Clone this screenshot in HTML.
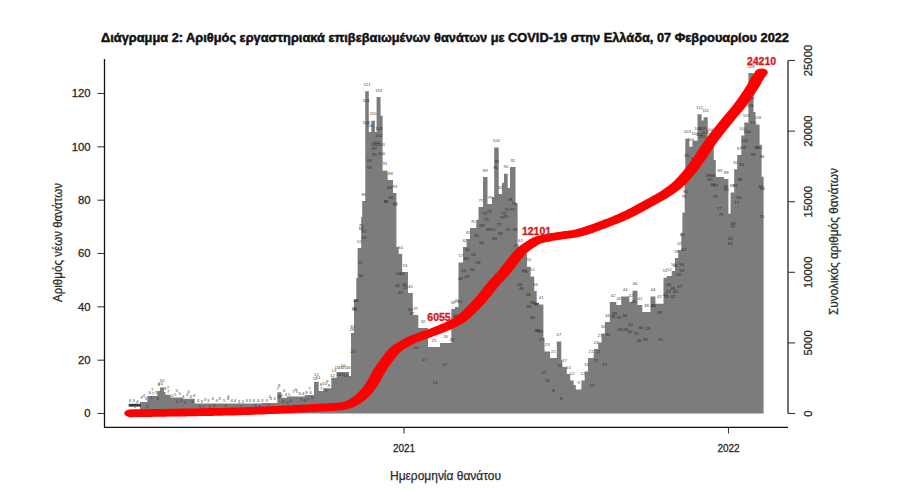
<!DOCTYPE html>
<html><head><meta charset="utf-8"><style>
html,body{margin:0;padding:0;background:#fff;width:900px;height:491px;overflow:hidden}
svg{display:block}
text{font-family:"Liberation Sans", sans-serif}
</style></head><body>
<svg width="900" height="491" viewBox="0 0 900 491">
<rect width="900" height="491" fill="#fff"/>
<text x="445" y="41.7" text-anchor="middle" font-weight="bold" font-size="12.8" fill="#111" stroke="#111" stroke-width="0.5" textLength="688" lengthAdjust="spacingAndGlyphs">Διάγραμμα 2: Αριθμός εργαστηριακά επιβεβαιωμένων θανάτων με COVID-19 στην Ελλάδα, 07 Φεβρουαρίου 2022</text>
<path d="M140.0 413.5 L140.0 402.0 L147.3 402.0 L147.3 396.0 L157.3 396.0 L157.3 391.0 L160.0 391.0 L160.0 387.5 L164.0 387.5 L164.0 392.0 L165.3 392.0 L165.3 394.7 L170.7 394.7 L170.7 397.5 L182.7 397.5 L182.7 398.7 L194.7 398.7 L194.7 403.5 L262.0 403.5 L262.0 403.0 L277.3 403.0 L277.3 392.3 L281.3 392.3 L281.3 397.7 L287.0 397.7 L287.0 396.5 L304.7 396.5 L304.7 395.0 L314.0 395.0 L314.0 381.7 L318.7 381.7 L318.7 391.0 L323.3 391.0 L323.3 388.3 L331.3 388.3 L331.3 377.7 L336.7 377.7 L336.7 372.0 L349.0 372.0 L349.0 376.0 L351.0 376.0 L351.0 333.0 L354.0 333.0 L354.0 300.0 L356.3 300.0 L356.3 278.0 L357.6 278.0 L357.6 248.0 L361.2 248.0 L361.2 217.0 L362.2 217.0 L362.2 201.0 L365.3 201.0 L365.2 91.2 L368.8 91.2 L368.8 132.0 L371.3 132.0 L371.3 120.7 L374.9 120.7 L374.9 132.0 L376.6 132.0 L376.6 97.0 L380.5 97.0 L380.6 115.7 L382.6 115.7 L382.6 170.7 L387.7 170.7 L387.7 180.0 L393.0 180.0 L393.0 193.0 L396.4 193.0 L396.4 247.0 L398.7 247.0 L398.7 254.0 L402.2 254.0 L402.2 272.0 L408.0 272.0 L408.0 293.0 L412.8 293.0 L412.8 315.0 L418.3 315.0 L418.3 328.0 L428.0 328.0 L428.0 347.0 L440.0 347.0 L440.0 343.0 L451.3 343.0 L451.3 309.0 L455.0 309.0 L455.0 307.0 L458.5 307.0 L458.5 262.5 L463.0 262.5 L463.0 247.0 L466.6 247.0 L466.6 239.0 L470.0 239.0 L470.0 228.0 L476.3 228.0 L476.3 219.7 L478.5 219.7 L478.5 207.0 L483.0 207.0 L483.0 177.0 L487.5 177.0 L487.5 204.0 L492.0 204.0 L492.0 197.0 L494.2 197.0 L494.2 147.5 L498.7 147.5 L498.7 194.0 L502.0 194.0 L502.0 182.7 L504.0 182.7 L504.0 173.7 L507.7 173.7 L507.7 188.0 L510.0 188.0 L510.0 167.0 L515.5 167.0 L515.5 202.9 L517.6 202.9 L517.6 247.0 L523.2 247.0 L523.2 254.0 L527.0 254.0 L527.0 266.7 L530.6 266.7 L530.6 276.5 L534.2 276.5 L534.2 291.0 L536.7 291.0 L536.7 303.0 L539.0 303.0 L539.0 304.6 L543.4 304.6 L543.4 338.0 L544.5 338.0 L544.5 351.5 L550.0 351.5 L550.0 358.0 L556.8 358.0 L556.8 341.4 L561.3 341.4 L561.3 360.0 L562.4 360.0 L562.4 367.0 L566.8 367.0 L566.8 374.0 L570.2 374.0 L570.2 380.5 L573.6 380.5 L573.6 385.0 L575.8 385.0 L575.8 389.5 L581.4 389.5 L581.4 380.5 L584.7 380.5 L584.7 371.6 L588.0 371.6 L588.0 358.0 L593.7 358.0 L593.7 349.0 L598.2 349.0 L598.2 342.5 L601.5 342.5 L601.5 333.6 L604.9 333.6 L604.9 322.0 L609.8 322.0 L609.8 302.0 L616.3 302.0 L616.3 305.0 L621.2 305.0 L621.2 296.4 L629.3 296.4 L629.3 302.0 L632.6 302.0 L632.6 290.7 L637.5 290.7 L637.5 305.0 L642.3 305.0 L642.3 312.0 L650.5 312.0 L650.5 296.4 L655.4 296.4 L655.4 303.7 L663.5 303.7 L663.5 277.7 L666.8 277.7 L666.8 276.0 L671.7 276.0 L671.7 271.0 L675.0 271.0 L675.0 258.0 L678.2 258.0 L678.2 250.0 L681.3 250.0 L681.3 232.8 L682.4 232.8 L682.4 212.6 L684.7 212.6 L684.7 180.0 L685.3 180.0 L685.3 138.7 L689.3 138.7 L689.3 146.8 L692.4 146.8 L692.4 140.7 L697.5 140.7 L697.5 114.3 L701.6 114.3 L701.6 120.4 L703.6 120.4 L703.6 117.3 L707.7 117.3 L707.7 136.7 L710.7 136.7 L710.7 144.8 L713.8 144.8 L713.8 160.0 L715.8 160.0 L715.8 177.0 L724.0 177.0 L724.0 179.0 L728.4 179.0 L728.4 213.7 L730.6 213.7 L730.6 192.4 L734.2 192.4 L734.2 169.2 L737.2 169.2 L737.2 155.0 L741.3 155.0 L741.3 135.6 L744.3 135.6 L744.3 122.4 L748.4 122.4 L748.4 73.0 L753.5 73.0 L753.5 112.0 L755.5 112.0 L755.5 124.4 L759.6 124.4 L759.6 144.8 L761.6 144.8 L761.6 176.7 L763.6 176.7 L763.6 413.5 Z" fill="#7c7c7c"/>
<rect x="128.7" y="403.8" width="12" height="2.8" fill="#3a3a3a"/>
<g font-size="4.3" text-anchor="middle" fill="#4a4a4a" font-family="Liberation Sans, sans-serif"><text x="143.7" y="396.5">4</text><text x="152.3" y="390.5">7</text><text x="158.7" y="385.5">8</text><text x="162.0" y="382.0">10</text><text x="168.0" y="389.2">7</text><text x="176.7" y="392.0">6</text><text x="188.7" y="393.2">6</text><text x="228.3" y="398.0">4</text><text x="269.6" y="397.5">4</text><text x="279.3" y="386.8">8</text><text x="284.1" y="392.2">6</text><text x="295.9" y="391.0">6</text><text x="309.4" y="389.5">7</text><text x="316.4" y="376.2">12</text><text x="321.0" y="385.5">8</text><text x="327.3" y="382.8">9</text><text x="334.0" y="372.2">13</text><text x="342.9" y="366.5">16</text><text x="352.5" y="327.5">30</text><text x="353.0" y="353.0" fill="#2a2a2a">21</text><text x="354.7" y="310.7" fill="#2a2a2a">39</text><text x="353.8" y="310.1" fill="#2a2a2a">39</text><text x="355.7" y="302.0" fill="#2a2a2a">39</text><text x="355.8" y="301.7" fill="#2a2a2a">44</text><text x="359.4" y="242.5">62</text><text x="360.7" y="264.3" fill="#2a2a2a">57</text><text x="360.8" y="277.4" fill="#2a2a2a">50</text><text x="361.1" y="226.7" fill="#2a2a2a">72</text><text x="361.1" y="230.3" fill="#2a2a2a">66</text><text x="363.8" y="195.5">80</text><text x="364.0" y="239.2" fill="#2a2a2a">63</text><text x="363.9" y="232.6" fill="#2a2a2a">67</text><text x="367.0" y="85.7">121</text><text x="366.1" y="101.5" fill="#2a2a2a">114</text><text x="366.4" y="124.4" fill="#2a2a2a">108</text><text x="370.1" y="126.5">106</text><text x="369.4" y="161.7" fill="#2a2a2a">94</text><text x="369.3" y="169.4" fill="#2a2a2a">93</text><text x="373.1" y="115.2">110</text><text x="374.2" y="150.0" fill="#2a2a2a">99</text><text x="374.5" y="155.7" fill="#2a2a2a">95</text><text x="376.5" y="144.4" fill="#2a2a2a">100</text><text x="374.4" y="145.6" fill="#2a2a2a">100</text><text x="378.6" y="91.5">119</text><text x="378.8" y="129.7" fill="#2a2a2a">108</text><text x="379.1" y="137.4" fill="#2a2a2a">102</text><text x="381.5" y="145.7" fill="#2a2a2a">101</text><text x="381.5" y="154.8" fill="#2a2a2a">100</text><text x="385.1" y="165.2">91</text><text x="385.8" y="203.3" fill="#2a2a2a">76</text><text x="386.1" y="202.6" fill="#2a2a2a">82</text><text x="390.4" y="174.5">88</text><text x="390.9" y="198.5" fill="#2a2a2a">80</text><text x="389.4" y="188.8" fill="#2a2a2a">84</text><text x="394.7" y="187.5">83</text><text x="395.5" y="205.3" fill="#2a2a2a">75</text><text x="394.4" y="205.8" fill="#2a2a2a">76</text><text x="397.4" y="287.2" fill="#2a2a2a">45</text><text x="398.5" y="275.3" fill="#2a2a2a">54</text><text x="400.4" y="248.5">60</text><text x="400.2" y="294.0" fill="#2a2a2a">43</text><text x="401.8" y="275.3" fill="#2a2a2a">54</text><text x="405.1" y="266.5">53</text><text x="404.3" y="285.6" fill="#2a2a2a">46</text><text x="405.4" y="288.6" fill="#2a2a2a">47</text><text x="410.4" y="287.5">45</text><text x="410.2" y="310.7" fill="#2a2a2a">36</text><text x="411.8" y="314.7" fill="#2a2a2a">37</text><text x="415.6" y="309.5">37</text><text x="415.9" y="348.5" fill="#2a2a2a">24</text><text x="423.1" y="322.5">32</text><text x="424.3" y="361.0" fill="#2a2a2a">17</text><text x="434.0" y="341.5">25</text><text x="434.9" y="383.9" fill="#2a2a2a">13</text><text x="445.6" y="337.5">26</text><text x="444.5" y="365.5" fill="#2a2a2a">17</text><text x="453.1" y="303.5">39</text><text x="451.9" y="340.5" fill="#2a2a2a">25</text><text x="452.7" y="324.7" fill="#2a2a2a">31</text><text x="456.8" y="301.5">40</text><text x="455.7" y="316.9" fill="#2a2a2a">33</text><text x="455.3" y="318.8" fill="#2a2a2a">35</text><text x="460.8" y="257.0">57</text><text x="459.7" y="302.9" fill="#2a2a2a">42</text><text x="460.3" y="279.8" fill="#2a2a2a">49</text><text x="464.8" y="241.5">62</text><text x="466.3" y="259.5" fill="#2a2a2a">60</text><text x="463.6" y="272.2" fill="#2a2a2a">53</text><text x="468.3" y="233.5">65</text><text x="467.6" y="250.8" fill="#2a2a2a">60</text><text x="466.9" y="277.7" fill="#2a2a2a">49</text><text x="473.1" y="222.5">70</text><text x="472.1" y="271.2" fill="#2a2a2a">54</text><text x="473.2" y="256.1" fill="#2a2a2a">56</text><text x="478.0" y="263.9" fill="#2a2a2a">58</text><text x="476.4" y="237.4" fill="#2a2a2a">65</text><text x="480.8" y="201.5">77</text><text x="481.6" y="243.6" fill="#2a2a2a">64</text><text x="481.7" y="227.2" fill="#2a2a2a">68</text><text x="485.2" y="171.5">89</text><text x="486.2" y="221.4" fill="#2a2a2a">74</text><text x="484.4" y="215.3" fill="#2a2a2a">76</text><text x="489.8" y="198.5">79</text><text x="488.3" y="231.2" fill="#2a2a2a">68</text><text x="489.0" y="213.0" fill="#2a2a2a">74</text><text x="492.9" y="230.6" fill="#2a2a2a">71</text><text x="494.5" y="239.7" fill="#2a2a2a">68</text><text x="496.4" y="142.0">100</text><text x="495.6" y="169.0" fill="#2a2a2a">90</text><text x="496.8" y="162.8" fill="#2a2a2a">92</text><text x="500.4" y="188.5">82</text><text x="500.3" y="235.3" fill="#2a2a2a">69</text><text x="499.1" y="226.2" fill="#2a2a2a">72</text><text x="503.8" y="215.1" fill="#2a2a2a">77</text><text x="502.0" y="218.5" fill="#2a2a2a">73</text><text x="505.9" y="168.2">90</text><text x="506.8" y="210.9" fill="#2a2a2a">75</text><text x="505.6" y="217.7" fill="#2a2a2a">73</text><text x="507.9" y="231.0" fill="#2a2a2a">70</text><text x="510.1" y="200.7" fill="#2a2a2a">78</text><text x="512.8" y="161.5">92</text><text x="513.7" y="204.8" fill="#2a2a2a">76</text><text x="512.3" y="211.3" fill="#2a2a2a">77</text><text x="515.1" y="231.2" fill="#2a2a2a">66</text><text x="516.6" y="246.8" fill="#2a2a2a">63</text><text x="520.4" y="241.5">62</text><text x="521.5" y="289.5" fill="#2a2a2a">46</text><text x="519.7" y="285.6" fill="#2a2a2a">46</text><text x="525.1" y="248.5">60</text><text x="525.4" y="272.8" fill="#2a2a2a">51</text><text x="524.0" y="271.6" fill="#2a2a2a">53</text><text x="528.8" y="261.2">55</text><text x="528.7" y="308.4" fill="#2a2a2a">39</text><text x="528.6" y="296.3" fill="#2a2a2a">46</text><text x="532.4" y="271.0">51</text><text x="532.5" y="318.5" fill="#2a2a2a">36</text><text x="532.2" y="303.9" fill="#2a2a2a">38</text><text x="535.5" y="285.5">46</text><text x="536.3" y="305.8" fill="#2a2a2a">37</text><text x="536.1" y="305.4" fill="#2a2a2a">40</text><text x="537.9" y="331.6" fill="#2a2a2a">30</text><text x="536.7" y="331.6" fill="#2a2a2a">32</text><text x="541.2" y="299.1">41</text><text x="540.5" y="333.3" fill="#2a2a2a">29</text><text x="541.4" y="341.2" fill="#2a2a2a">27</text><text x="543.8" y="374.1" fill="#2a2a2a">17</text><text x="547.2" y="346.0">23</text><text x="547.3" y="382.2" fill="#2a2a2a">12</text><text x="553.4" y="352.5">21</text><text x="553.5" y="391.6" fill="#2a2a2a">8</text><text x="559.0" y="335.9">27</text><text x="559.6" y="367.1" fill="#2a2a2a">20</text><text x="561.1" y="400.4" fill="#2a2a2a">8</text><text x="564.6" y="361.5">17</text><text x="568.5" y="368.5">15</text><text x="571.9" y="375.0">12</text><text x="578.6" y="384.0">9</text><text x="583.0" y="375.0">12</text><text x="586.4" y="366.1">16</text><text x="590.9" y="352.5">21</text><text x="591.9" y="386.7" fill="#2a2a2a">13</text><text x="596.0" y="343.5">24</text><text x="595.8" y="362.1" fill="#2a2a2a">17</text><text x="599.9" y="337.0">27</text><text x="598.6" y="353.2" fill="#2a2a2a">21</text><text x="603.2" y="328.1">30</text><text x="604.4" y="366.4" fill="#2a2a2a">19</text><text x="607.3" y="316.5">34</text><text x="607.8" y="335.7" fill="#2a2a2a">30</text><text x="613.0" y="296.5">42</text><text x="614.5" y="315.3" fill="#2a2a2a">39</text><text x="612.7" y="318.1" fill="#2a2a2a">38</text><text x="618.8" y="299.5">41</text><text x="619.7" y="331.0" fill="#2a2a2a">34</text><text x="618.8" y="319.0" fill="#2a2a2a">35</text><text x="625.2" y="290.9">44</text><text x="624.7" y="316.9" fill="#2a2a2a">34</text><text x="625.4" y="331.1" fill="#2a2a2a">28</text><text x="631.0" y="296.5">42</text><text x="630.4" y="326.3" fill="#2a2a2a">30</text><text x="629.6" y="333.1" fill="#2a2a2a">30</text><text x="635.0" y="285.2">46</text><text x="636.5" y="335.1" fill="#2a2a2a">31</text><text x="633.7" y="302.6" fill="#2a2a2a">40</text><text x="639.9" y="299.5">41</text><text x="638.8" y="341.8" fill="#2a2a2a">26</text><text x="640.9" y="328.6" fill="#2a2a2a">34</text><text x="646.4" y="306.5">38</text><text x="647.7" y="329.6" fill="#2a2a2a">29</text><text x="645.2" y="341.1" fill="#2a2a2a">28</text><text x="653.0" y="290.9">44</text><text x="652.7" y="306.5" fill="#2a2a2a">41</text><text x="653.4" y="307.1" fill="#2a2a2a">43</text><text x="659.5" y="298.2">41</text><text x="660.5" y="341.4" fill="#2a2a2a">25</text><text x="659.3" y="314.2" fill="#2a2a2a">39</text><text x="665.1" y="272.2">51</text><text x="666.4" y="298.2" fill="#2a2a2a">44</text><text x="665.2" y="295.6" fill="#2a2a2a">42</text><text x="669.2" y="270.5">52</text><text x="668.2" y="292.8" fill="#2a2a2a">43</text><text x="668.7" y="285.9" fill="#2a2a2a">46</text><text x="673.4" y="265.5">53</text><text x="672.7" y="290.3" fill="#2a2a2a">48</text><text x="672.9" y="297.5" fill="#2a2a2a">42</text><text x="676.6" y="252.5">58</text><text x="675.1" y="266.7" fill="#2a2a2a">54</text><text x="675.7" y="293.1" fill="#2a2a2a">45</text><text x="679.8" y="244.5">61</text><text x="678.6" y="275.6" fill="#2a2a2a">54</text><text x="679.7" y="288.3" fill="#2a2a2a">47</text><text x="681.9" y="271.7" fill="#2a2a2a">53</text><text x="681.4" y="266.2" fill="#2a2a2a">58</text><text x="684.0" y="251.4" fill="#2a2a2a">62</text><text x="682.2" y="235.6" fill="#2a2a2a">66</text><text x="685.7" y="192.8" fill="#2a2a2a">80</text><text x="683.8" y="197.5" fill="#2a2a2a">79</text><text x="687.3" y="133.2">103</text><text x="687.8" y="177.8" fill="#2a2a2a">91</text><text x="686.7" y="157.1" fill="#2a2a2a">95</text><text x="690.8" y="141.3">100</text><text x="690.7" y="171.8" fill="#2a2a2a">89</text><text x="692.3" y="164.5" fill="#2a2a2a">96</text><text x="695.0" y="135.2">102</text><text x="696.3" y="168.9" fill="#2a2a2a">90</text><text x="693.5" y="160.2" fill="#2a2a2a">94</text><text x="699.5" y="108.8">112</text><text x="699.6" y="136.4" fill="#2a2a2a">104</text><text x="698.1" y="129.7" fill="#2a2a2a">106</text><text x="702.3" y="138.2" fill="#2a2a2a">101</text><text x="702.0" y="129.9" fill="#2a2a2a">103</text><text x="705.7" y="111.8">111</text><text x="705.7" y="133.9" fill="#2a2a2a">105</text><text x="706.3" y="153.1" fill="#2a2a2a">99</text><text x="709.2" y="131.2">104</text><text x="708.7" y="177.2" fill="#2a2a2a">88</text><text x="709.9" y="181.1" fill="#2a2a2a">85</text><text x="712.2" y="139.3">101</text><text x="713.3" y="176.6" fill="#2a2a2a">86</text><text x="713.0" y="185.8" fill="#2a2a2a">86</text><text x="714.9" y="198.1" fill="#2a2a2a">79</text><text x="715.7" y="186.7" fill="#2a2a2a">87</text><text x="719.9" y="171.5">89</text><text x="721.1" y="215.6" fill="#2a2a2a">75</text><text x="719.1" y="210.3" fill="#2a2a2a">77</text><text x="726.2" y="173.5">88</text><text x="725.8" y="188.2" fill="#2a2a2a">82</text><text x="726.4" y="190.9" fill="#2a2a2a">85</text><text x="730.0" y="244.9" fill="#2a2a2a">64</text><text x="730.4" y="239.8" fill="#2a2a2a">62</text><text x="732.4" y="186.9">83</text><text x="732.5" y="228.1" fill="#2a2a2a">70</text><text x="733.1" y="224.8" fill="#2a2a2a">68</text><text x="735.7" y="163.7">92</text><text x="735.0" y="186.5" fill="#2a2a2a">83</text><text x="736.4" y="204.2" fill="#2a2a2a">77</text><text x="739.2" y="149.5">97</text><text x="738.9" y="199.1" fill="#2a2a2a">80</text><text x="740.1" y="180.7" fill="#2a2a2a">88</text><text x="742.8" y="130.1">104</text><text x="741.5" y="166.4" fill="#2a2a2a">94</text><text x="743.5" y="149.1" fill="#2a2a2a">98</text><text x="746.3" y="116.9">109</text><text x="744.9" y="141.7" fill="#2a2a2a">102</text><text x="746.9" y="132.6" fill="#2a2a2a">104</text><text x="751.0" y="67.5">128</text><text x="750.3" y="106.6" fill="#2a2a2a">116</text><text x="750.8" y="100.1" fill="#2a2a2a">117</text><text x="753.6" y="124.4" fill="#2a2a2a">111</text><text x="753.1" y="156.2" fill="#2a2a2a">99</text><text x="757.5" y="118.9">108</text><text x="759.0" y="149.4" fill="#2a2a2a">101</text><text x="756.7" y="149.0" fill="#2a2a2a">98</text><text x="760.8" y="187.8" fill="#2a2a2a">83</text><text x="762.0" y="158.0" fill="#2a2a2a">96</text><text x="762.6" y="189.6" fill="#2a2a2a">86</text><text x="761.8" y="217.5" fill="#2a2a2a">75</text><text x="130.0" y="401.8" fill="#3c3c3c">4</text><text x="131.5" y="406.8" fill="#333">3</text><text x="133.7" y="402.4" fill="#3c3c3c">3</text><text x="135.2" y="407.8" fill="#333">2</text><text x="137.2" y="403.3" fill="#3c3c3c">4</text><text x="141.5" y="398.7" fill="#3c3c3c">3</text><text x="145.8" y="400.4" fill="#3c3c3c">3</text><text x="147.3" y="408.0" fill="#333">2</text><text x="149.7" y="394.2" fill="#3c3c3c">6</text><text x="151.2" y="399.1" fill="#333">5</text><text x="152.9" y="394.6" fill="#3c3c3c">7</text><text x="156.2" y="394.0" fill="#3c3c3c">5</text><text x="157.7" y="400.1" fill="#333">4</text><text x="160.7" y="384.6" fill="#3c3c3c">10</text><text x="165.0" y="389.9" fill="#3c3c3c">9</text><text x="168.1" y="392.8" fill="#3c3c3c">7</text><text x="172.1" y="396.9" fill="#3c3c3c">5</text><text x="175.3" y="396.0" fill="#3c3c3c">5</text><text x="176.8" y="402.7" fill="#333">4</text><text x="179.7" y="395.0" fill="#3c3c3c">5</text><text x="181.2" y="402.2" fill="#333">4</text><text x="183.3" y="397.7" fill="#3c3c3c">4</text><text x="184.8" y="404.4" fill="#333">3</text><text x="187.1" y="395.5" fill="#3c3c3c">4</text><text x="190.7" y="397.6" fill="#3c3c3c">4</text><text x="192.2" y="402.7" fill="#333">3</text><text x="193.9" y="397.4" fill="#3c3c3c">4</text><text x="198.2" y="401.8" fill="#3c3c3c">4</text><text x="199.7" y="408.1" fill="#333">3</text><text x="201.8" y="402.8" fill="#3c3c3c">3</text><text x="203.3" y="409.4" fill="#333">2</text><text x="205.0" y="401.1" fill="#3c3c3c">3</text><text x="208.3" y="402.3" fill="#3c3c3c">3</text><text x="209.8" y="407.8" fill="#333">2</text><text x="212.7" y="400.4" fill="#3c3c3c">4</text><text x="214.2" y="406.6" fill="#333">3</text><text x="216.8" y="401.6" fill="#3c3c3c">4</text><text x="219.8" y="400.2" fill="#3c3c3c">3</text><text x="224.1" y="402.3" fill="#3c3c3c">5</text><text x="225.6" y="407.0" fill="#333">4</text><text x="227.9" y="400.2" fill="#3c3c3c">4</text><text x="231.8" y="401.6" fill="#3c3c3c">4</text><text x="234.9" y="402.3" fill="#3c3c3c">4</text><text x="238.9" y="402.6" fill="#3c3c3c">3</text><text x="240.4" y="408.4" fill="#333">2</text><text x="242.9" y="402.8" fill="#3c3c3c">2</text><text x="246.8" y="402.3" fill="#3c3c3c">3</text><text x="249.8" y="401.6" fill="#3c3c3c">3</text><text x="253.8" y="401.6" fill="#3c3c3c">4</text><text x="255.3" y="407.2" fill="#333">3</text><text x="258.2" y="402.1" fill="#3c3c3c">4</text><text x="259.7" y="408.0" fill="#333">3</text><text x="262.2" y="401.7" fill="#3c3c3c">3</text><text x="266.6" y="402.4" fill="#3c3c3c">3</text><text x="268.1" y="407.3" fill="#333">2</text><text x="270.6" y="400.1" fill="#3c3c3c">3</text><text x="274.4" y="399.6" fill="#3c3c3c">3</text><text x="275.9" y="408.5" fill="#333">2</text><text x="277.7" y="389.5" fill="#3c3c3c">7</text><text x="279.2" y="398.2" fill="#333">6</text><text x="281.5" y="396.5" fill="#3c3c3c">4</text><text x="283.0" y="402.7" fill="#333">3</text><text x="285.9" y="396.0" fill="#3c3c3c">4</text><text x="287.4" y="403.6" fill="#333">3</text><text x="289.1" y="395.8" fill="#3c3c3c">5</text><text x="290.6" y="402.2" fill="#333">4</text><text x="293.4" y="393.0" fill="#3c3c3c">7</text><text x="296.9" y="393.2" fill="#3c3c3c">5</text><text x="300.0" y="394.9" fill="#3c3c3c">6</text><text x="301.5" y="400.5" fill="#333">5</text><text x="303.2" y="395.2" fill="#3c3c3c">4</text><text x="304.7" y="402.4" fill="#333">3</text><text x="306.4" y="393.9" fill="#3c3c3c">8</text><text x="307.9" y="400.5" fill="#333">7</text><text x="310.6" y="394.4" fill="#3c3c3c">6</text><text x="312.1" y="399.1" fill="#333">5</text><text x="315.0" y="380.1" fill="#3c3c3c">11</text><text x="318.1" y="378.8" fill="#3c3c3c">11</text><text x="321.1" y="390.3" fill="#3c3c3c">7</text><text x="324.5" y="385.1" fill="#3c3c3c">10</text><text x="326.0" y="392.1" fill="#333">9</text><text x="329.0" y="387.0" fill="#3c3c3c">9</text><text x="332.4" y="377.2" fill="#3c3c3c">12</text><text x="336.8" y="368.7" fill="#3c3c3c">15</text><text x="338.3" y="375.7" fill="#333">14</text><text x="340.5" y="368.6" fill="#3c3c3c">16</text><text x="342.0" y="375.8" fill="#333">15</text><text x="344.2" y="368.7" fill="#3c3c3c">15</text><text x="345.7" y="377.4" fill="#333">14</text><text x="348.3" y="369.2" fill="#3c3c3c">16</text><text x="351.8" y="331.4" fill="#3c3c3c">29</text></g>
<g fill="#ff0000"><path d="M130.7 417.2 L131.4 417.2 L132.3 417.2 L133.1 417.2 L134.0 417.1 L135.0 417.1 L135.9 417.1 L137.0 417.1 L138.0 417.1 L139.1 417.1 L140.3 417.0 L141.4 417.0 L142.6 417.0 L143.9 417.0 L145.2 417.0 L146.5 417.0 L147.8 416.9 L149.2 416.9 L150.5 416.9 L152.0 416.9 L153.4 416.8 L154.9 416.8 L156.4 416.8 L157.9 416.8 L159.4 416.8 L161.0 416.7 L162.6 416.7 L164.2 416.7 L165.8 416.7 L167.4 416.6 L169.1 416.6 L170.7 416.6 L172.4 416.6 L174.1 416.5 L175.8 416.5 L177.5 416.5 L179.2 416.5 L181.0 416.4 L182.7 416.4 L184.4 416.4 L186.2 416.4 L187.9 416.3 L189.7 416.3 L191.5 416.3 L193.2 416.2 L195.0 416.2 L196.8 416.2 L198.5 416.1 L200.3 416.1 L202.0 416.1 L203.8 416.0 L205.5 416.0 L207.2 416.0 L209.0 415.9 L210.7 415.9 L212.4 415.9 L214.1 415.8 L215.8 415.8 L217.5 415.8 L219.1 415.7 L220.8 415.7 L222.4 415.7 L224.0 415.6 L225.6 415.6 L227.2 415.6 L228.7 415.5 L230.3 415.5 L231.8 415.4 L233.3 415.4 L234.7 415.4 L236.2 415.3 L237.6 415.3 L238.9 415.2 L240.3 415.2 L242.1 415.1 L243.8 415.1 L245.6 415.0 L247.3 415.0 L249.1 414.9 L250.8 414.8 L252.6 414.8 L254.4 414.7 L256.1 414.6 L257.9 414.6 L259.7 414.5 L261.4 414.4 L263.2 414.4 L264.9 414.3 L266.7 414.2 L268.4 414.1 L270.1 414.0 L271.9 414.0 L273.6 413.9 L275.3 413.8 L277.0 413.7 L278.7 413.7 L280.4 413.6 L282.0 413.5 L283.7 413.4 L285.3 413.3 L287.0 413.3 L288.6 413.2 L290.2 413.1 L291.8 413.0 L293.4 412.9 L294.9 412.8 L296.5 412.8 L298.0 412.7 L299.5 412.6 L301.0 412.5 L302.4 412.4 L303.9 412.4 L305.3 412.3 L306.7 412.2 L308.1 412.1 L309.4 412.1 L310.8 412.0 L312.1 411.9 L313.3 411.9 L314.6 411.8 L315.8 411.7 L317.0 411.7 L318.2 411.6 L319.3 411.5 L320.4 411.5 L321.5 411.4 L322.6 411.3 L323.6 411.3 L324.6 411.2 L325.5 411.2 L329.2 411.0 L332.2 410.8 L334.7 410.7 L336.7 410.6 L338.3 410.5 L339.7 410.5 L340.9 410.4 L342.0 410.3 L343.1 410.1 L344.1 409.9 L345.1 409.7 L346.0 409.5 L347.3 409.2 L349.5 408.6 L351.7 407.9 L353.8 407.1 L355.6 406.2 L357.2 405.3 L358.7 404.5 L360.1 403.6 L361.5 402.7 L362.9 401.7 L364.4 400.6 L365.7 399.5 L366.9 398.4 L368.1 397.3 L369.3 396.2 L370.3 395.1 L371.4 393.9 L372.5 392.6 L373.6 391.3 L374.6 390.0 L375.6 388.6 L376.5 387.3 L377.4 385.9 L378.4 384.4 L379.2 383.1 L380.0 381.7 L380.8 380.2 L381.5 378.8 L382.3 377.4 L383.0 376.0 L383.7 374.7 L384.5 373.4 L385.3 372.1 L386.0 370.9 L386.8 369.7 L387.5 368.6 L388.3 367.4 L389.2 366.2 L390.1 365.0 L391.0 363.6 L391.9 362.5 L392.8 361.3 L393.7 360.0 L394.6 358.7 L395.6 357.5 L396.5 356.2 L397.5 355.1 L398.4 354.0 L399.3 353.0 L400.1 352.2 L401.3 351.2 L402.5 350.3 L403.6 349.5 L404.9 348.8 L406.2 348.0 L407.7 347.2 L409.2 346.4 L410.5 345.6 L411.6 345.0 L412.6 344.4 L413.5 343.9 L414.7 343.3 L416.3 342.6 L418.4 341.8 L419.3 341.4 L420.5 341.0 L421.7 340.5 L423.0 340.0 L424.5 339.5 L425.9 339.0 L427.5 338.4 L429.1 337.9 L430.7 337.3 L432.4 336.7 L434.0 336.1 L435.7 335.5 L437.3 334.9 L438.9 334.3 L440.5 333.7 L442.0 333.1 L443.4 332.6 L445.0 331.9 L446.6 331.2 L448.2 330.5 L449.8 329.9 L451.3 329.2 L452.9 328.5 L454.4 327.8 L455.9 327.1 L457.4 326.3 L458.9 325.6 L460.3 324.8 L461.7 324.0 L463.1 323.2 L464.5 322.3 L466.0 321.2 L467.5 320.1 L468.9 319.0 L470.3 317.8 L471.6 316.7 L472.8 315.5 L473.9 314.4 L475.1 313.2 L476.1 312.1 L477.2 311.1 L478.2 310.1 L479.2 309.1 L480.5 307.7 L481.7 306.4 L482.9 305.2 L484.0 303.9 L485.1 302.7 L486.2 301.5 L487.2 300.3 L488.2 299.1 L489.3 297.8 L490.3 296.6 L491.3 295.4 L492.3 294.1 L493.2 293.0 L494.2 291.8 L495.1 290.6 L496.1 289.3 L497.1 288.1 L498.2 286.8 L499.1 285.8 L500.1 284.6 L501.1 283.5 L502.2 282.3 L503.3 281.1 L504.5 279.8 L505.6 278.6 L506.7 277.4 L507.8 276.2 L508.8 275.0 L509.8 273.8 L510.9 272.5 L512.0 271.1 L513.0 269.9 L513.9 268.6 L514.8 267.4 L515.7 266.2 L516.6 265.1 L517.5 263.9 L518.4 262.8 L519.4 261.6 L520.4 260.3 L521.4 259.1 L522.4 257.9 L523.4 256.7 L524.4 255.6 L525.3 254.5 L526.3 253.5 L527.1 252.7 L528.3 251.7 L529.4 250.7 L530.5 249.9 L531.7 249.1 L532.9 248.3 L534.1 247.6 L535.4 246.8 L536.8 245.8 L538.0 245.1 L538.9 244.5 L539.8 244.0 L540.9 243.6 L542.7 243.0 L543.5 242.8 L544.6 242.5 L545.9 242.3 L547.2 242.0 L548.7 241.7 L550.2 241.4 L551.8 241.1 L553.4 240.8 L555.1 240.6 L556.8 240.3 L558.4 240.0 L560.1 239.7 L561.6 239.5 L563.0 239.2 L564.3 239.1 L565.6 238.9 L566.9 238.8 L568.3 238.6 L569.8 238.4 L571.3 238.3 L572.9 238.0 L574.7 237.8 L576.5 237.5 L578.4 237.1 L580.4 236.6 L582.4 236.1 L583.8 235.7 L585.2 235.3 L586.6 234.9 L588.0 234.4 L589.5 233.9 L591.0 233.4 L592.6 232.9 L594.1 232.4 L595.7 231.8 L597.3 231.3 L598.9 230.7 L600.4 230.1 L602.0 229.6 L603.5 229.0 L605.0 228.4 L606.5 227.9 L608.0 227.3 L609.4 226.8 L610.7 226.3 L612.0 225.8 L613.2 225.3 L615.0 224.6 L616.7 224.0 L618.3 223.3 L619.8 222.7 L621.3 222.1 L622.8 221.5 L624.2 220.9 L625.5 220.3 L626.9 219.6 L628.3 219.0 L629.6 218.4 L631.0 217.7 L632.4 217.1 L633.8 216.4 L635.2 215.7 L636.6 215.0 L638.0 214.2 L639.5 213.5 L640.9 212.7 L642.3 212.0 L643.7 211.2 L645.1 210.4 L646.5 209.7 L647.8 208.9 L649.1 208.2 L650.4 207.5 L651.7 206.8 L652.9 206.1 L654.1 205.4 L655.6 204.6 L657.1 203.8 L658.6 203.0 L660.0 202.2 L661.4 201.5 L662.7 200.7 L664.1 200.0 L665.4 199.2 L666.8 198.4 L668.1 197.6 L669.4 196.7 L670.9 195.8 L672.3 194.8 L673.7 193.9 L675.1 192.9 L676.4 191.9 L677.8 190.9 L679.1 189.9 L680.4 188.9 L681.6 187.8 L682.9 186.8 L684.2 185.6 L685.4 184.4 L686.6 183.2 L687.7 181.9 L688.8 180.7 L689.9 179.5 L691.0 178.3 L692.0 177.1 L693.1 175.8 L694.1 174.7 L695.1 173.5 L696.1 172.2 L697.1 171.0 L698.0 169.7 L699.0 168.5 L700.0 167.2 L700.9 166.0 L701.8 164.8 L702.6 163.6 L703.7 162.2 L704.6 160.8 L705.5 159.5 L706.4 158.2 L707.2 156.9 L708.0 155.6 L708.8 154.3 L709.7 153.0 L710.6 151.7 L711.5 150.3 L712.4 149.0 L713.2 147.7 L714.1 146.4 L715.1 145.0 L716.1 143.6 L717.1 142.1 L718.0 141.0 L718.8 139.8 L719.8 138.6 L720.8 137.4 L721.7 136.1 L722.7 134.8 L723.7 133.5 L724.7 132.3 L725.7 131.0 L726.7 129.9 L727.5 128.7 L728.6 127.5 L729.5 126.3 L730.5 125.1 L731.4 124.0 L732.3 122.9 L733.2 121.8 L734.2 120.6 L735.1 119.5 L736.1 118.3 L737.1 117.1 L738.1 116.0 L739.1 114.8 L740.1 113.6 L741.2 112.3 L742.3 111.0 L743.4 109.7 L744.5 108.2 L745.7 106.7 L746.6 105.5 L747.5 104.3 L748.4 103.0 L749.3 101.7 L750.3 100.3 L751.2 98.9 L752.2 97.5 L753.1 96.1 L754.1 94.8 L754.9 93.5 L755.8 92.2 L756.5 91.1 L757.3 90.0 L758.4 88.1 L759.4 86.4 L760.3 84.9 L761.1 83.4 L761.8 82.2 L762.4 81.0 L763.1 79.9 L764.3 78.0 L765.4 76.3 L766.5 74.9 L767.2 73.9 L755.8 70.7 L755.1 71.7 L754.1 73.2 L752.8 75.0 L751.5 77.1 L750.8 78.3 L750.1 79.6 L749.4 80.9 L748.6 82.3 L747.8 83.7 L746.9 85.3 L745.7 87.0 L745.1 88.1 L744.3 89.2 L743.5 90.5 L742.6 91.7 L741.7 93.1 L740.8 94.4 L739.9 95.8 L738.9 97.2 L738.0 98.5 L737.1 99.8 L736.2 101.1 L735.3 102.2 L734.5 103.3 L733.4 104.8 L732.3 106.2 L731.3 107.4 L730.2 108.7 L729.2 109.9 L728.2 111.1 L727.2 112.3 L726.1 113.5 L725.1 114.7 L724.1 115.9 L723.2 117.0 L722.2 118.2 L721.3 119.3 L720.4 120.4 L719.5 121.5 L718.5 122.7 L717.5 123.9 L716.5 125.3 L715.6 126.4 L714.6 127.6 L713.6 128.8 L712.6 130.1 L711.6 131.3 L710.6 132.6 L709.6 133.9 L708.6 135.2 L707.7 136.5 L706.7 137.7 L705.9 138.9 L704.8 140.4 L703.7 141.9 L702.7 143.3 L701.8 144.7 L700.9 146.0 L700.0 147.3 L699.2 148.7 L698.3 150.0 L697.4 151.3 L696.5 152.7 L695.7 153.9 L694.9 155.2 L694.1 156.5 L693.2 157.8 L692.3 159.0 L691.4 160.4 L690.5 161.5 L689.7 162.7 L688.8 163.9 L687.9 165.1 L686.9 166.3 L686.0 167.5 L685.0 168.7 L684.0 169.9 L683.1 171.0 L682.1 172.2 L681.1 173.4 L680.1 174.6 L679.0 175.8 L678.0 176.9 L677.0 178.0 L676.0 179.1 L675.0 180.2 L673.9 181.2 L672.7 182.2 L671.7 183.2 L670.6 184.1 L669.4 185.0 L668.2 185.9 L667.0 186.8 L665.8 187.7 L664.5 188.6 L663.2 189.5 L661.9 190.4 L660.6 191.3 L659.4 192.0 L658.2 192.8 L657.0 193.5 L655.8 194.2 L654.5 194.9 L653.2 195.6 L651.9 196.3 L650.5 197.1 L649.0 197.9 L647.5 198.7 L645.9 199.6 L644.7 200.2 L643.5 200.9 L642.2 201.6 L640.9 202.4 L639.6 203.1 L638.3 203.8 L636.9 204.6 L635.6 205.3 L634.2 206.1 L632.8 206.8 L631.5 207.5 L630.1 208.2 L628.8 208.9 L627.5 209.6 L626.2 210.2 L624.8 210.9 L623.5 211.5 L622.2 212.1 L620.9 212.7 L619.6 213.3 L618.4 213.9 L617.1 214.5 L615.8 215.0 L614.4 215.6 L613.0 216.2 L611.6 216.8 L610.1 217.4 L608.5 218.0 L606.8 218.7 L605.6 219.1 L604.3 219.6 L602.9 220.1 L601.6 220.7 L600.2 221.2 L598.7 221.7 L597.2 222.3 L595.7 222.8 L594.2 223.4 L592.7 223.9 L591.2 224.5 L589.7 225.0 L588.2 225.5 L586.7 226.0 L585.2 226.5 L583.8 227.0 L582.4 227.5 L581.1 227.9 L579.8 228.3 L578.6 228.6 L577.6 228.9 L575.9 229.3 L574.4 229.7 L572.9 230.0 L571.5 230.2 L570.2 230.4 L568.9 230.6 L567.6 230.8 L566.2 230.9 L564.8 231.1 L563.3 231.2 L561.7 231.4 L560.1 231.7 L558.4 231.9 L556.8 232.2 L555.2 232.5 L553.6 232.8 L551.9 233.0 L550.2 233.3 L548.5 233.6 L546.8 233.9 L545.1 234.2 L543.5 234.5 L541.9 234.9 L540.3 235.2 L538.9 235.6 L537.3 236.0 L534.8 236.8 L532.5 237.7 L530.7 238.7 L529.2 239.6 L527.9 240.4 L526.6 241.2 L525.4 242.0 L524.0 242.9 L522.6 243.8 L521.2 244.8 L519.7 245.9 L518.3 247.0 L516.9 248.3 L515.7 249.4 L514.6 250.6 L513.5 251.8 L512.5 253.0 L511.4 254.3 L510.4 255.5 L509.4 256.8 L508.4 258.0 L507.4 259.2 L506.4 260.4 L505.4 261.7 L504.5 262.9 L503.6 264.1 L502.7 265.3 L501.8 266.5 L500.8 267.7 L499.9 268.9 L498.8 270.2 L497.9 271.2 L496.9 272.4 L495.9 273.5 L494.8 274.7 L493.7 275.9 L492.6 277.2 L491.5 278.4 L490.4 279.6 L489.3 280.8 L488.2 282.0 L487.2 283.2 L486.1 284.5 L485.0 285.8 L484.0 287.1 L483.1 288.3 L482.1 289.5 L481.2 290.7 L480.3 291.8 L479.3 293.0 L478.3 294.2 L477.3 295.4 L476.3 296.6 L475.3 297.7 L474.3 298.9 L473.2 300.1 L472.2 301.3 L471.1 302.5 L469.9 303.7 L468.6 304.9 L467.6 305.9 L466.6 307.0 L465.6 308.1 L464.5 309.1 L463.5 310.2 L462.4 311.2 L461.3 312.3 L460.2 313.3 L459.1 314.3 L457.9 315.2 L456.7 316.1 L455.5 316.9 L454.4 317.6 L453.3 318.3 L452.1 319.0 L450.9 319.6 L449.6 320.3 L448.3 320.9 L447.0 321.5 L445.6 322.2 L444.2 322.8 L442.7 323.4 L441.2 324.1 L439.7 324.7 L438.2 325.4 L436.6 326.0 L435.3 326.6 L433.9 327.1 L432.5 327.7 L431.0 328.2 L429.5 328.8 L427.9 329.4 L426.3 329.9 L424.7 330.5 L423.0 331.1 L421.5 331.6 L419.9 332.2 L418.4 332.7 L416.9 333.2 L415.5 333.8 L414.1 334.3 L412.8 334.8 L411.6 335.2 L409.3 336.2 L407.4 337.0 L405.8 337.8 L404.4 338.5 L403.2 339.2 L402.1 339.9 L400.8 340.6 L399.5 341.4 L398.0 342.2 L396.5 343.0 L394.9 344.0 L393.2 345.1 L391.5 346.4 L389.9 347.8 L388.7 349.0 L387.6 350.2 L386.5 351.4 L385.4 352.8 L384.4 354.1 L383.4 355.4 L382.4 356.7 L381.5 358.0 L380.6 359.2 L379.8 360.4 L378.8 361.7 L377.8 363.0 L377.0 364.3 L376.1 365.6 L375.3 366.8 L374.5 368.0 L373.7 369.3 L372.9 370.6 L372.1 372.0 L371.3 373.5 L370.5 374.9 L369.8 376.3 L369.0 377.7 L368.3 379.1 L367.6 380.4 L366.8 381.6 L366.0 382.9 L365.1 384.2 L364.3 385.5 L363.4 386.7 L362.5 387.8 L361.6 388.9 L360.6 390.1 L359.7 391.1 L358.7 392.1 L357.7 393.1 L356.7 394.0 L355.7 394.9 L354.7 395.8 L353.6 396.6 L352.5 397.3 L351.3 398.1 L350.1 398.9 L348.9 399.5 L347.8 400.2 L346.7 400.7 L345.5 401.2 L344.3 401.6 L342.7 402.0 L341.8 402.2 L341.0 402.4 L340.4 402.5 L340.1 402.6 L339.7 402.6 L339.2 402.6 L338.4 402.7 L337.3 402.8 L335.7 402.8 L333.7 402.9 L331.2 403.1 L328.2 403.2 L324.5 403.4 L323.5 403.5 L322.5 403.5 L321.5 403.6 L320.4 403.6 L319.4 403.7 L318.3 403.8 L317.1 403.8 L315.9 403.9 L314.7 403.9 L313.5 404.0 L312.3 404.1 L311.0 404.2 L309.7 404.2 L308.4 404.3 L307.0 404.4 L305.6 404.4 L304.2 404.5 L302.8 404.6 L301.4 404.7 L299.9 404.8 L298.4 404.8 L296.9 404.9 L295.4 405.0 L293.9 405.1 L292.3 405.2 L290.8 405.2 L289.2 405.3 L287.6 405.4 L286.0 405.5 L284.4 405.6 L282.7 405.6 L281.1 405.7 L279.4 405.8 L277.7 405.9 L276.1 406.0 L274.4 406.0 L272.7 406.1 L271.0 406.2 L269.3 406.3 L267.5 406.3 L265.8 406.4 L264.1 406.5 L262.3 406.6 L260.6 406.6 L258.9 406.7 L257.1 406.8 L255.4 406.9 L253.6 406.9 L251.9 407.0 L250.1 407.1 L248.4 407.1 L246.6 407.2 L244.9 407.2 L243.2 407.3 L241.4 407.4 L239.7 407.4 L238.4 407.4 L237.0 407.5 L235.6 407.5 L234.2 407.6 L232.7 407.6 L231.3 407.6 L229.8 407.7 L228.2 407.7 L226.7 407.8 L225.1 407.8 L223.5 407.8 L221.9 407.9 L220.3 407.9 L218.7 407.9 L217.0 408.0 L215.4 408.0 L213.7 408.0 L212.0 408.1 L210.3 408.1 L208.6 408.1 L206.9 408.2 L205.1 408.2 L203.4 408.2 L201.7 408.3 L199.9 408.3 L198.2 408.3 L196.4 408.4 L194.6 408.4 L192.9 408.4 L191.1 408.5 L189.4 408.5 L187.6 408.5 L185.9 408.6 L184.1 408.6 L182.4 408.6 L180.6 408.6 L178.9 408.7 L177.2 408.7 L175.5 408.7 L173.8 408.7 L172.1 408.8 L170.4 408.8 L168.8 408.8 L167.1 408.8 L165.5 408.9 L163.9 408.9 L162.3 408.9 L160.7 408.9 L159.1 409.0 L157.6 409.0 L156.1 409.0 L154.6 409.0 L153.1 409.1 L151.7 409.1 L150.3 409.1 L148.9 409.1 L147.5 409.1 L146.2 409.2 L144.9 409.2 L143.6 409.2 L142.3 409.2 L141.1 409.2 L140.0 409.2 L138.8 409.3 L137.7 409.3 L136.7 409.3 L135.6 409.3 L134.6 409.3 L133.7 409.3 L132.8 409.4 L131.9 409.4 L131.1 409.4 L130.3 409.4 Z"/><ellipse cx="130.5" cy="413.3" rx="6.2" ry="3.9"/><ellipse cx="761.5" cy="72.3" rx="6.2" ry="3.9"/></g>
<path d="M104.5 59 V427.3 H788 M788 427.3" stroke="#111" stroke-width="1.3" fill="none"/>
<path d="M97.5 413.5 H104.5" stroke="#3a3a3a" stroke-width="1.1"/>
<text x="90.5" y="417.3" text-anchor="end" font-size="11.3" fill="#2a2a2a" stroke="#2a2a2a" stroke-width="0.3">0</text>
<path d="M97.5 360.2 H104.5" stroke="#3a3a3a" stroke-width="1.1"/>
<text x="90.5" y="364.0" text-anchor="end" font-size="11.3" fill="#2a2a2a" stroke="#2a2a2a" stroke-width="0.3">20</text>
<path d="M97.5 306.8 H104.5" stroke="#3a3a3a" stroke-width="1.1"/>
<text x="90.5" y="310.6" text-anchor="end" font-size="11.3" fill="#2a2a2a" stroke="#2a2a2a" stroke-width="0.3">40</text>
<path d="M97.5 253.5 H104.5" stroke="#3a3a3a" stroke-width="1.1"/>
<text x="90.5" y="257.3" text-anchor="end" font-size="11.3" fill="#2a2a2a" stroke="#2a2a2a" stroke-width="0.3">60</text>
<path d="M97.5 200.2 H104.5" stroke="#3a3a3a" stroke-width="1.1"/>
<text x="90.5" y="204.0" text-anchor="end" font-size="11.3" fill="#2a2a2a" stroke="#2a2a2a" stroke-width="0.3">80</text>
<path d="M97.5 146.8 H104.5" stroke="#3a3a3a" stroke-width="1.1"/>
<text x="90.5" y="150.6" text-anchor="end" font-size="11.3" fill="#2a2a2a" stroke="#2a2a2a" stroke-width="0.3">100</text>
<path d="M97.5 93.5 H104.5" stroke="#3a3a3a" stroke-width="1.1"/>
<text x="90.5" y="97.3" text-anchor="end" font-size="11.3" fill="#2a2a2a" stroke="#2a2a2a" stroke-width="0.3">120</text>
<path d="M788 60.5 V413.5" stroke="#111" stroke-width="1.2"/>
<path d="M788 413.5 H795" stroke="#3a3a3a" stroke-width="1.1"/>
<text transform="translate(812 413.5) rotate(-90)" text-anchor="middle" font-size="11.3" fill="#2a2a2a" stroke="#2a2a2a" stroke-width="0.3">0</text>
<path d="M788 342.9 H795" stroke="#3a3a3a" stroke-width="1.1"/>
<text transform="translate(812 342.9) rotate(-90)" text-anchor="middle" font-size="11.3" fill="#2a2a2a" stroke="#2a2a2a" stroke-width="0.3">5000</text>
<path d="M788 272.3 H795" stroke="#3a3a3a" stroke-width="1.1"/>
<text transform="translate(812 272.3) rotate(-90)" text-anchor="middle" font-size="11.3" fill="#2a2a2a" stroke="#2a2a2a" stroke-width="0.3">10000</text>
<path d="M788 201.7 H795" stroke="#3a3a3a" stroke-width="1.1"/>
<text transform="translate(812 201.7) rotate(-90)" text-anchor="middle" font-size="11.3" fill="#2a2a2a" stroke="#2a2a2a" stroke-width="0.3">15000</text>
<path d="M788 131.1 H795" stroke="#3a3a3a" stroke-width="1.1"/>
<text transform="translate(812 131.1) rotate(-90)" text-anchor="middle" font-size="11.3" fill="#2a2a2a" stroke="#2a2a2a" stroke-width="0.3">20000</text>
<path d="M788 60.5 H795" stroke="#3a3a3a" stroke-width="1.1"/>
<text transform="translate(812 60.5) rotate(-90)" text-anchor="middle" font-size="11.3" fill="#2a2a2a" stroke="#2a2a2a" stroke-width="0.3">25000</text>
<path d="M404.0 427.3 V433.5" stroke="#3a3a3a" stroke-width="1.1"/>
<text transform="translate(404.0 452.3) scale(0.87 1)" text-anchor="middle" font-size="11.5" fill="#2a2a2a" stroke="#2a2a2a" stroke-width="0.3">2021</text>
<path d="M728.5 427.3 V433.5" stroke="#3a3a3a" stroke-width="1.1"/>
<text transform="translate(728.5 452.3) scale(0.87 1)" text-anchor="middle" font-size="11.5" fill="#2a2a2a" stroke="#2a2a2a" stroke-width="0.3">2022</text>
<text x="445.5" y="480" text-anchor="middle" font-size="12" fill="#2a2a2a" stroke="#2a2a2a" stroke-width="0.25" textLength="111" lengthAdjust="spacingAndGlyphs">Ημερομηνία θανάτου</text>
<text transform="translate(62 242.5) rotate(-90)" text-anchor="middle" font-size="12" fill="#2a2a2a" stroke="#2a2a2a" stroke-width="0.25" textLength="119" lengthAdjust="spacingAndGlyphs">Αριθμός νέων θανάτων</text>
<text transform="translate(838 241.5) rotate(-90)" text-anchor="middle" font-size="12" fill="#2a2a2a" stroke="#2a2a2a" stroke-width="0.25" textLength="147" lengthAdjust="spacingAndGlyphs">Συνολικός αριθμός θανάτων</text>
<text x="439.0" y="321.0" text-anchor="middle" font-weight="bold" font-size="10.5" fill="#d41c24" stroke="#d41c24" stroke-width="0.35">6055</text>
<text x="536.5" y="235.0" text-anchor="middle" font-weight="bold" font-size="10.5" fill="#d41c24" stroke="#d41c24" stroke-width="0.35">12101</text>
<text x="761.5" y="64.5" text-anchor="middle" font-weight="bold" font-size="10.5" fill="#d41c24" stroke="#d41c24" stroke-width="0.35">24210</text>
</svg>
</body></html>
